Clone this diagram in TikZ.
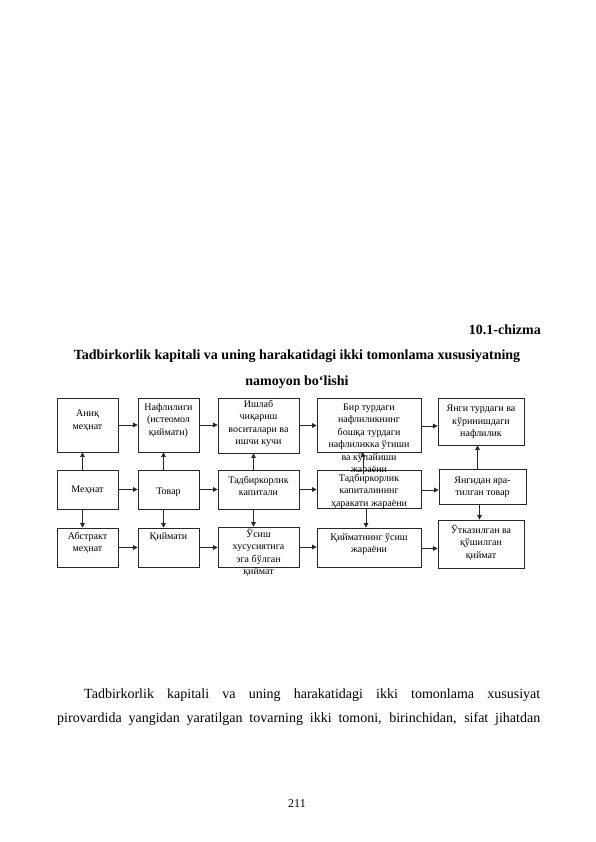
\documentclass[tikz,border=0pt]{standalone}
\usepackage{fontspec}
\setmainfont{Liberation Serif}
\usetikzlibrary{arrows.meta}
\begin{document}
\begin{tikzpicture}[x=1pt,y=-1pt,
  lbl/.style={font=\fontsize{10}{12.5}\selectfont,align=center,inner sep=0pt,anchor=base},
  arr/.style={draw=black!85,line width=0.6pt,-{Triangle[length=4.5pt,width=4.5pt]}},
  hdr/.style={font=\fontsize{14}{16}\selectfont\bfseries,inner sep=0pt},
  body/.style={font=\fontsize{14}{16}\selectfont,inner sep=0pt,anchor=base west}]
\useasboundingbox (0,0) rectangle (596,842);
% heading
\node[hdr,anchor=base east] (num) at (541,334) {10.1-chizma};
\node[hdr,anchor=base] (t1) at (297,359) {Tadbirkorlik kapitali va uning harakatidagi ikki tomonlama xususiyatning};
\node[hdr,anchor=base] (t2) at (297,385) {namoyon bo‘lishi};
% boxes: corners
\newcommand{\bx}[5]{\node[draw=black!85,line width=0.7pt,inner sep=0pt,minimum width=#4-#2,minimum height=#5-#3] (#1) at ({(#2+#4)/2},{(#3+#5)/2}) {};}
\bx{A1}{57}{398}{118}{452}
\bx{A2}{138}{398}{199}{452}
\bx{A3}{218}{398}{299}{453}
\bx{A4}{317}{398}{421}{452}
\bx{A5}{438}{398}{524}{445}
\bx{B1}{57}{470}{118}{509}
\bx{B2}{138}{470}{199}{509}
\bx{B3}{218}{470}{299}{509}
\bx{B4}{317}{470}{421}{508}
\bx{B5}{439}{469}{526}{504}
\bx{C1}{57}{528}{118}{567}
\bx{C2}{138}{528}{199}{567}
\bx{C3}{218}{527}{299}{567}
\bx{C4}{317}{528}{421}{567}
\bx{C5}{438}{520}{524}{568}
% labels (anchor = baseline of the last line)
\node[lbl] (a1) at (87.5,429) {Аниқ\\меҳнат};
\node[lbl] (a2) at (168.5,435) {Нафлилиги\\(истеомол\\қиймати)};
\node[lbl] (a3) at (258.5,444.5) {Ишлаб\\чиқариш\\воситалари ва\\ишчи кучи};
\node[lbl] (a4) at (369,472.5) {Бир турдаги\\нафлиликнинг\\бошқа турдаги\\нафлиликка ўтиши\\ва кўпайиши\\жараёни};
\node[lbl] (a5) at (481,436.5) {Янги турдаги ва\\кўринишдаги\\нафлилик};
\node[lbl] (b1) at (87.5,492.5) {Меҳнат};
\node[lbl] (b2) at (168.5,494.5) {Товар};
\node[lbl] (b3) at (258.5,495.5) {Тадбиркорлик\\капитали};
\node[lbl] (b4) at (369,506) {Тадбиркорлик\\капиталининг\\ҳаракати жараёни};
\node[lbl] (b5) at (482.5,495.5) {Янгидан яра-\\тилган товар};
\node[lbl] (c1) at (87.5,551.5) {Абстракт\\меҳнат};
\node[lbl] (c2) at (168.5,539) {Қиймати};
\node[lbl] (c3) at (258.5,574.5) {Ўсиш\\хусусиятига\\эга бўлган\\қиймат};
\node[lbl] (c4) at (369,552.5) {Қийматнинг ўсиш\\жараёни};
\node[lbl] (c5) at (481,558) {Ўтказилган ва\\қўшилган\\қиймат};
% horizontal arrows
\foreach \p/\q in {A1/A2,A2/A3,A3/A4,B1/B2,B2/B3,B3/B4,C1/C2,C2/C3,C3/C4}
  \draw[arr] (\p.east) -- (\p.east -| \q.west);
\draw[arr] ([yshift=-1pt]A4.east) -- ([yshift=-1pt]A4.east -| A5.west);
\draw[arr] ([yshift=-1pt]B4.east) -- ([yshift=-1pt]B4.east -| B5.west);
\draw[arr] ([yshift=-1pt]C4.east) -- ([yshift=-1pt]C4.east -| C5.west);
% vertical arrows
\foreach \b/\t/\d in {B1/A1/C1,B2/A2/C2,B3/A3/C3} {
  \draw[arr] ([xshift=-5pt]\b.north) -- ([xshift=-5pt]\b.north |- \t.south);
  \draw[arr] ([xshift=-5pt]\b.south) -- ([xshift=-5pt]\b.south |- \d.north);
}
\draw[arr] ([xshift=-6pt]B4.north) -- ([xshift=-6pt]B4.north |- A4.south);
\draw[arr] ([xshift=-3pt]B4.south) -- ([xshift=-3pt]B4.south |- C4.north);
\draw[arr] ([xshift=-5pt]B5.north) -- ([xshift=-5pt]B5.north |- A5.south);
\draw[arr] ([xshift=-3pt]B5.south) -- ([xshift=-3pt]B5.south |- C5.north);
% body text
\node[body] (p1) at (84,698) {\makebox[456pt][s]{Tadbirkorlik kapitali va uning harakatidagi ikki tomonlama xususiyat}};
\node[body] (p2) at (57,722) {\makebox[483pt][s]{pirovardida yangidan yaratilgan tovarning ikki tomoni, birinchidan, sifat jihatdan}};
\node[font=\fontsize{12}{14}\selectfont,inner sep=0pt,anchor=base] (pg) at (297,807) {211};
\end{tikzpicture}
\end{document}
